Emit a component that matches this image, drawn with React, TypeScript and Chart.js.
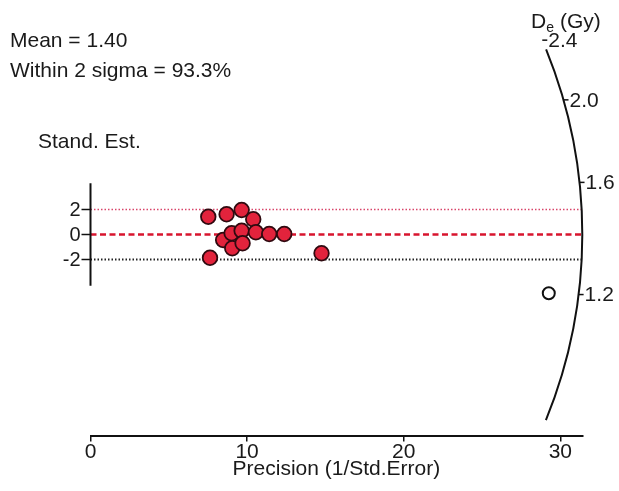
import React, { useEffect, useRef } from "react";
import { Chart, registerables } from "chart.js";

Chart.register(...registerables);

// ---- data ----
const MEAN_DE = 1.4;
const WITHIN_2_SIGMA = 93.3;
const precision = [7.52, 8.69, 9.65, 10.39, 8.47, 9.01, 9.05, 9.65, 9.71, 10.56, 11.41, 12.37, 7.63, 14.75];
const standEst = [1.42, 1.62, 1.96, 1.22, -0.44, 0.1, -1.1, 0.3, -0.7, 0.18, 0.04, 0.04, -1.86, -1.5];
const openPrecision = [29.26];
const openStandEst = [-4.7];
const xTicks = [0, 10, 20, 30];
const yTicks = [-2, 0, 2];
const deTicks = [1.2, 1.6, 2.0, 2.4];
const deArcRange = [0.84, 2.33];
const sigmaLines = [2, 0, -2];
const yAxisRange = [-4.1, 4.1];
const X_MIN = 0;
const X_MAX = 31.4;
const Y_MIN = -16.08;
const Y_MAX = 18.76;
const ARC_RADIUS = 31.4;

const FONT = "'Liberation Sans', Arial, sans-serif";
const TEXT = "#1a1a1a";

const overlay = {
  id: "radialOverlay",
  afterDatasetsDraw(chart: any) {
    const ctx = chart.ctx;
    const xs = chart.scales.x;
    const ys = chart.scales.y;
    const px = (v: number) => xs.getPixelForValue(v);
    const py = (v: number) => ys.getPixelForValue(v);
    const ox = px(0);
    const oy = py(0);
    const kx = px(1) - px(0);
    const ky = py(0) - py(1);
    const R = px(ARC_RADIUS) - ox;
    const ang = (de: number) => Math.atan2(Math.log(de / MEAN_DE) * ky, kx);

    ctx.save();
    // short y axis
    ctx.strokeStyle = "#111";
    ctx.lineWidth = 2;
    ctx.beginPath();
    ctx.moveTo(ox, py(yAxisRange[1]));
    ctx.lineTo(ox, py(yAxisRange[0]));
    ctx.stroke();
    ctx.lineWidth = 1.5;
    ctx.font = `20px ${FONT}`;
    ctx.fillStyle = TEXT;
    ctx.textAlign = "right";
    ctx.textBaseline = "middle";
    yTicks.forEach((t) => {
      const y = py(t);
      ctx.beginPath();
      ctx.moveTo(ox - 9, y);
      ctx.lineTo(ox, y);
      ctx.stroke();
      ctx.fillText(String(t), ox - 10, y + 1);
    });

    // radial arc
    ctx.lineWidth = 2;
    ctx.beginPath();
    ctx.arc(ox, oy, R, -ang(deArcRange[1]), -ang(deArcRange[0]), false);
    ctx.stroke();
    ctx.lineWidth = 1.5;
    ctx.font = `21px ${FONT}`;
    ctx.textAlign = "left";
    deTicks.forEach((d) => {
      const a = ang(d);
      const x = ox + R * Math.cos(a);
      const y = oy - R * Math.sin(a);
      ctx.beginPath();
      ctx.moveTo(x, y);
      ctx.lineTo(x + 5, y);
      ctx.stroke();
      ctx.fillText(d.toFixed(1), x + 6, y + 1);
    });

    // axis title for radial scale
    ctx.textBaseline = "alphabetic";
    ctx.font = `21px ${FONT}`;
    ctx.fillText("D", 531, 28);
    const dW = ctx.measureText("D").width;
    ctx.font = `14px ${FONT}`;
    ctx.fillText("e", 531 + dW, 32);
    const eW = ctx.measureText("e").width;
    ctx.font = `21px ${FONT}`;
    ctx.fillText("(Gy)", 531 + dW + eW + 6, 28);

    // annotations
    ctx.fillText(`Mean = ${MEAN_DE.toFixed(2)}`, 10, 47);
    ctx.fillText(`Within 2 sigma = ${WITHIN_2_SIGMA.toFixed(1)}%`, 10, 77);
    ctx.fillText("Stand. Est.", 38, 148);
    ctx.restore();
  },
};

export default function App() {
  const ref = useRef<HTMLCanvasElement | null>(null);
  useEffect(() => {
    if (!ref.current) return;
    const lineStyles = [
      { color: "#d9456a", width: 1.5, dash: [1.5, 2] },
      { color: "#d8142e", width: 2.5, dash: [6, 3.5] },
      { color: "#222222", width: 2, dash: [1.5, 2] },
    ];
    const chart = new Chart(ref.current, {
      type: "scatter",
      data: {
        datasets: [
          {
            type: "scatter",
            data: precision.map((x, i) => ({ x, y: standEst[i] })),
            backgroundColor: "#e2233c",
            borderColor: "#300a10",
            borderWidth: 1.8,
            pointRadius: 7.3,
            order: 0,
          } as any,
          {
            type: "scatter",
            data: openPrecision.map((x, i) => ({ x, y: openStandEst[i] })),
            backgroundColor: "rgba(255,255,255,0)",
            borderColor: "#111",
            borderWidth: 2,
            pointRadius: 6,
            order: 0,
          } as any,
          ...sigmaLines.map((s, i) => ({
            type: "line",
            data: [
              { x: X_MIN, y: s },
              { x: ARC_RADIUS, y: s },
            ],
            borderColor: lineStyles[i].color,
            borderWidth: lineStyles[i].width,
            borderDash: lineStyles[i].dash,
            pointRadius: 0,
            fill: false,
            order: 2,
          })) as any,
        ],
      },
      options: {
        animation: false,
        responsive: true,
        maintainAspectRatio: false,
        layout: { autoPadding: false, padding: { left: 90.5, right: 36.7, top: 0, bottom: 0 } },
        plugins: { legend: { display: false }, tooltip: { enabled: false } },
        scales: {
          x: {
            type: "linear",
            min: X_MIN,
            max: X_MAX,
            afterFit: (s: any) => {
              s.height = 55.5;
            },
            afterBuildTicks: (s: any) => {
              s.ticks = xTicks.map((v) => ({ value: v }));
            },
            grid: {
              display: true,
              drawOnChartArea: false,
              drawTicks: true,
              tickLength: 6,
              color: "#111",
              lineWidth: 1.5,
            },
            border: { display: true, color: "#111", width: 2 },
            ticks: {
              padding: -2,
              color: TEXT,
              font: { family: FONT, size: 21 },
              maxRotation: 0,
              autoSkip: false,
            },
            title: {
              display: true,
              text: "Precision (1/Std.Error)",
              color: TEXT,
              font: { family: FONT, size: 21 },
              padding: { top: 0, bottom: 9 },
            },
          },
          y: { type: "linear", display: false, min: Y_MIN, max: Y_MAX },
        },
      } as any,
      plugins: [overlay],
    });
    return () => chart.destroy();
  }, []);
  return (
    <div style={{ position: "absolute", left: 0, top: 0, width: 619, height: 491, background: "#fff" }}>
      <canvas ref={ref} />
    </div>
  );
}
